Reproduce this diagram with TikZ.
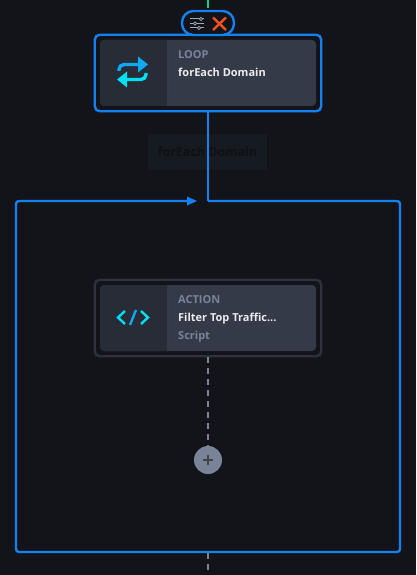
\documentclass[tikz,border=0pt]{standalone}
\usepackage{fontspec}
\setmainfont{Open Sans}
\usetikzlibrary{positioning,arrows.meta,calc}
\definecolor{canvas}{HTML}{12141A}
\definecolor{flowblue}{HTML}{1580F0}
\definecolor{cardleft}{HTML}{272C37}
\definecolor{cardright}{HTML}{343A48}
\definecolor{ringgray}{HTML}{2E323D}
\definecolor{graytext}{HTML}{79839A}
\definecolor{cyanicon}{HTML}{00E0F0}
\definecolor{skyicon}{HTML}{0FA8F5}
\definecolor{dashgray}{HTML}{79839A}
\definecolor{ghostbox}{HTML}{161A21}
\definecolor{ghosttext}{HTML}{0E1116}
\definecolor{stubgreen}{HTML}{00D68F}
\definecolor{closered}{HTML}{F4511E}
\tikzset{
  x=1pt,y=-1pt,
  outerring/.style={draw=#1,line width=2.4pt,rounded corners=5pt,minimum width=226.5pt,minimum height=76.5pt,inner sep=0pt},
  kindtext/.style={anchor=base west,text=graytext,font=\fontsize{11}{13}\selectfont\bfseries,inner sep=0pt},
  titletext/.style={anchor=base west,text=white!92!black,font=\fontsize{11}{13}\selectfont\bfseries,inner sep=0pt},
  flowline/.style={draw=flowblue,line width=2.4pt},
  dashline/.style={draw=dashgray,line width=2.4pt,dash pattern=on 5.5pt off 5.5pt},
}
\begin{document}
\begin{tikzpicture}
    \useasboundingbox[fill=canvas] (0,0) rectangle (416,575);
    % loop card
    \node[outerring=flowblue] (loop) at (208,73) {};
    \fill[cardright,rounded corners=4pt] (100,40) rectangle (316,106);
    \fill[cardleft,rounded corners=4pt] (100,40) rectangle (172,106);
    \fill[cardright] (167,40) rectangle (172,106);
    \node[kindtext] (loopkind) at (178,58.5) {LOOP};
    \node[titletext] (looptitle) at (178,76.5) {forEach Domain};
    % loop icon
    \draw[skyicon,line width=3.4pt,rounded corners=5pt] (119,71) -- (119,64.5) -- (138,64.5);
    \fill[skyicon] (138,56.5) -- (148,64.5) -- (138,72.5) -- cycle;
    \draw[cyanicon,line width=3.4pt,rounded corners=5pt] (146,73) -- (146,79.5) -- (126,79.5);
    \fill[cyanicon] (127,71.5) -- (117,79.5) -- (127,87.5) -- cycle;
    % toolbar
    \coordinate (topend) at (208,0);
    \coordinate (topstub) at (208,8);
    \draw[draw=stubgreen,line width=2.4pt] (topend) -- (topstub);
    \node[draw=flowblue,fill=canvas,line width=2.4pt,rounded corners=11.5pt,minimum width=52pt,minimum height=24pt,inner sep=0pt] (tools) at (208,23) {};
    \foreach \y/\k in {19/201,23.5/195,28/199}{
      \draw[graytext!70!white,line width=1pt] (190,\y) -- (204,\y);
      \draw[graytext!70!white,fill=canvas,line width=0.8pt] (\k,\y) circle (1.6pt);
    }
    \draw[draw=closered,line width=2.4pt] (213,17.5) -- (226,30) (226,17.5) -- (213,30);
    % ghost label
    \node[fill=ghostbox,text=ghosttext,font=\fontsize{12.5}{15}\selectfont\bfseries,minimum width=119pt,minimum height=36pt,inner sep=0pt] (ghost) at (207.5,152) {forEach Domain};
    % loop frame
    \coordinate (framein) at (208,201);
    \coordinate (frameleft) at (197,201);
    \draw[flowline] (loop.south) -- (framein);
    \draw[flowline,rounded corners=3pt] (framein) -- (400,201) -- (400,552) -- (16,552) -- (16,201) -- (188,201);
    \fill[flowblue] (187,196.5) -- (197,201) -- (187,205.5) -- cycle;
    % action card
    \node[outerring=ringgray] (action) at (208,318) {};
    \fill[cardright,rounded corners=4pt] (100,285) rectangle (316,351);
    \fill[cardleft,rounded corners=4pt] (100,285) rectangle (172,351);
    \fill[cardright] (167,285) rectangle (172,351);
    \node[kindtext] (actionkind) at (178,303.5) {ACTION};
    \node[titletext] (actiontitle) at (178,321.5) {Filter Top Traffic...};
    \node[kindtext] (actiontype) at (178,339.5) {Script};
    % code icon
    \draw[cyanicon,line width=2.4pt] (125,311) -- (118,317.5) -- (125,324);
    \draw[cyanicon,line width=2.4pt] (141,311) -- (148,317.5) -- (141,324);
    \draw[skyicon,line width=2.4pt] (130,325) -- (136,310);
    % add button
    \node[circle,fill=dashgray,minimum size=28pt,inner sep=0pt] (addbtn) at (208,460) {};
    \draw[canvas!80!white,line width=2pt] (203,459.5) -- (213,459.5) (208,454.5) -- (208,464.5);
    \draw[dashline] (action.south) -- (addbtn.north);
    % bottom stub
    \coordinate (framebot) at (208,553);
    \coordinate (botend) at (208,575);
    \draw[dashline] (framebot) -- (botend);
\end{tikzpicture}
\end{document}
